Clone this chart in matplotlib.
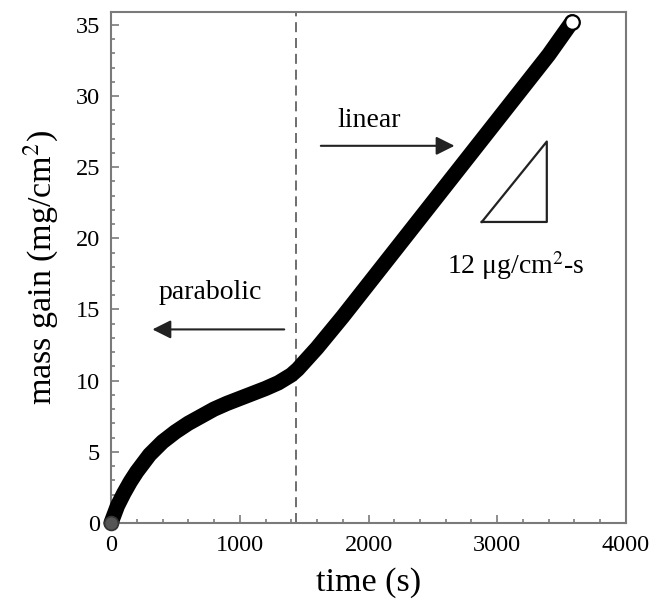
import matplotlib
matplotlib.use('Agg')
import matplotlib.pyplot as plt
from matplotlib.ticker import MultipleLocator

plt.rcParams['font.family'] = ['Liberation Serif', 'DejaVu Serif']
plt.rcParams['mathtext.fontset'] = 'stix'

# values
time_s = [0, 25, 50, 100, 150, 200, 250, 300, 400, 500, 600, 700, 800, 900,
          1000, 1100, 1200, 1300, 1400, 1450, 1500, 1600, 1700, 1800, 2000,
          2200, 2400, 2600, 2800, 3000, 3200, 3400, 3580]
mass_gain = [0, 0.6, 1.2, 2.1, 2.9, 3.6, 4.2, 4.8, 5.7, 6.4, 7.0, 7.5, 8.0, 8.4,
             8.75, 9.1, 9.45, 9.85, 10.4, 10.8, 11.3, 12.3, 13.4, 14.5, 16.8,
             19.1, 21.4, 23.7, 26.0, 28.3, 30.6, 32.9, 35.2]
transition_t = 1440
slope_tri_x = [2880, 3385, 3385, 2880]
slope_tri_y = [21.15, 21.15, 26.8, 21.15]

GREY = '#7a7a7a'

fig = plt.figure(figsize=(6.70, 6.01), dpi=100)
ax = fig.add_axes([0.1657, 0.1298, 0.7686, 0.8502])

# dense band of open circles -> thick black line + open end markers
ax.plot(time_s, mass_gain, color='black', lw=11, solid_capstyle='round',
        solid_joinstyle='round', clip_on=False, zorder=3)
ax.plot(time_s[:1], mass_gain[:1], 'o', ms=10, mfc='#555555', mec='#333333',
        mew=1.2, clip_on=False, zorder=4)
ax.plot(time_s[-1:], mass_gain[-1:], 'o', ms=10.5, mfc='white', mec='black',
        mew=1.6, clip_on=False, zorder=4)

ax.axvline(transition_t, color='#555555', lw=1.2, ls=(0, (6, 3.5)), zorder=2)

ax.text(2004, 28.3, 'linear', fontsize=20, ha='center', va='center')
ax.annotate('', xy=(2690, 26.5), xytext=(1608, 26.5),
            arrowprops=dict(arrowstyle='-|>', color='#222222', lw=1.5,
                            mutation_scale=28))
ax.text(769, 16.2, 'parabolic', fontsize=20, ha='center', va='center')
ax.annotate('', xy=(300, 13.6), xytext=(1367, 13.6),
            arrowprops=dict(arrowstyle='-|>', color='#222222', lw=1.5,
                            mutation_scale=28))

ax.plot(slope_tri_x, slope_tri_y, color='#222222', lw=1.6)
ax.text(3146, 18.1, '12 \u03bcg/cm$^{2}$-s', fontsize=20, ha='center', va='center')

ax.set_xlim(0, 4000)
ax.set_ylim(0, 35.9)
ax.xaxis.set_major_locator(MultipleLocator(1000))
ax.xaxis.set_minor_locator(MultipleLocator(200))
ax.yaxis.set_major_locator(MultipleLocator(5))
ax.yaxis.set_minor_locator(MultipleLocator(1))

ax.tick_params(which='both', direction='in', color=GREY, width=1.2,
               labelsize=17.5, top=False, right=False)
ax.tick_params(which='major', length=6)
ax.tick_params(which='minor', length=3)
ax.tick_params(axis='x', which='major', pad=9)
ax.tick_params(axis='y', which='major', pad=8)
for s in ax.spines.values():
    s.set_color(GREY)
    s.set_linewidth(1.5)

ax.set_xlabel('time (s)', fontsize=24.5, labelpad=8)
ax.set_ylabel('mass gain (mg/cm$^{2}$)', fontsize=24.5, labelpad=11)

fig.savefig('out.png', dpi=100)
